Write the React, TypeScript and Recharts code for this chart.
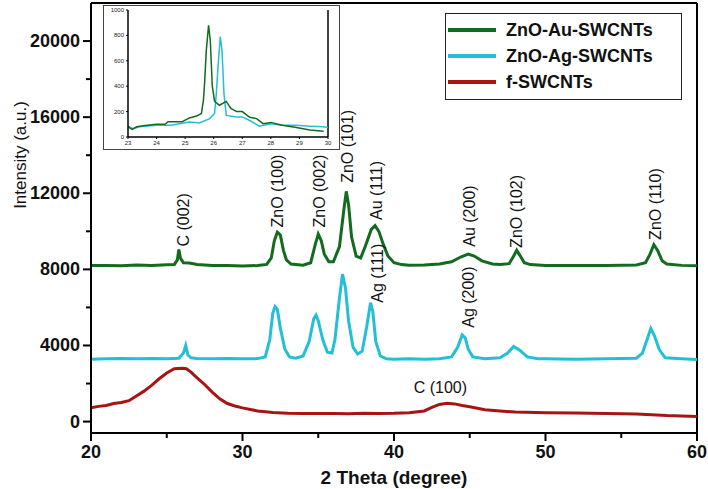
import React from 'react';
import { LineChart, Line, XAxis, YAxis, ReferenceLine, ReferenceDot, Legend, Label } from 'recharts';

// [2θ, intensity]
const auPoints: [number, number][] = [
  [20, 8200], [21, 8210], [22, 8190], [23, 8230], [24, 8200], [25, 8240], [25.5, 8260],
  [25.7, 8500], [25.8, 9050], [25.9, 8600], [26.1, 8350], [26.5, 8330], [27, 8260], [28, 8210],
  [29, 8200], [30, 8180], [31, 8200], [31.6, 8260], [31.9, 8600], [32.1, 9500], [32.3, 9950],
  [32.5, 9800], [32.7, 9000], [32.9, 8500], [33.2, 8280], [34, 8220], [34.5, 8350], [34.8, 9300],
  [35, 9850], [35.2, 9500], [35.4, 8800], [35.7, 8400], [36, 8400], [36.4, 9200], [36.7, 11200],
  [36.85, 12100], [37, 11400], [37.2, 9700], [37.5, 8700], [37.8, 8600], [38.1, 9200], [38.5, 10100],
  [38.75, 10300], [39, 10000], [39.3, 9300], [39.6, 8700], [40, 8350], [40.5, 8250], [41, 8220],
  [42, 8230], [43, 8280], [43.8, 8400], [44.4, 8650], [44.9, 8800], [45.3, 8700], [45.8, 8450],
  [46.5, 8280], [47, 8250], [47.6, 8300], [47.9, 8700], [48.1, 9000], [48.3, 8750], [48.6, 8350],
  [49, 8250], [50, 8210], [52, 8200], [54, 8210], [55, 8220], [56, 8230], [56.6, 8350],
  [56.9, 8800], [57.15, 9300], [57.4, 9000], [57.7, 8450], [58, 8280], [59, 8210], [60, 8190],
];

const agPoints: [number, number][] = [
  [20, 3280], [21, 3300], [22, 3320], [23, 3300], [24, 3320], [25, 3300], [25.8, 3330],
  [26.1, 3600], [26.25, 4000], [26.4, 3500], [26.6, 3350], [27, 3320], [28, 3300], [29, 3310],
  [30, 3300], [31, 3310], [31.5, 3400], [31.8, 4300], [32, 5700], [32.15, 6050], [32.3, 5900],
  [32.5, 4900], [32.8, 3800], [33.1, 3400], [33.5, 3330], [34, 3450], [34.4, 4200], [34.7, 5400],
  [34.85, 5600], [35, 5300], [35.3, 4300], [35.6, 3650], [35.9, 3600], [36.1, 4300], [36.4, 6500],
  [36.6, 7750], [36.8, 7000], [37, 5300], [37.3, 3900], [37.6, 3550], [37.9, 3700], [38.2, 5000],
  [38.45, 6250], [38.6, 5800], [38.8, 4200], [39.1, 3450], [39.5, 3300], [40, 3280], [41, 3300],
  [42, 3280], [43, 3300], [43.8, 3400], [44.2, 3900], [44.5, 4550], [44.7, 4400], [44.9, 3800],
  [45.2, 3400], [46, 3300], [47, 3350], [47.5, 3600], [47.9, 3950], [48.3, 3750], [48.8, 3400],
  [49.5, 3300], [50, 3300], [52, 3280], [54, 3300], [55, 3310], [56, 3330], [56.4, 3600],
  [56.7, 4300], [56.95, 4900], [57.2, 4500], [57.5, 3800], [57.9, 3350], [59, 3300], [60, 3260],
];

const fPoints: [number, number][] = [
  [20, 730], [20.5, 800], [21, 850], [21.5, 950], [22, 1000], [22.5, 1100], [23, 1350],
  [23.5, 1600], [24, 1900], [24.5, 2250], [25, 2550], [25.5, 2780], [26, 2800], [26.3, 2780],
  [26.6, 2600], [27, 2300], [27.5, 1950], [28, 1550], [28.5, 1200], [29, 950], [29.5, 820],
  [30, 720], [31, 560], [32, 480], [33, 440], [34, 420], [35, 430], [36, 420], [37, 410],
  [38, 440], [39, 430], [40, 440], [41, 470], [42, 560], [42.5, 750], [43, 900], [43.5, 960],
  [44, 930], [44.5, 850], [45, 780], [46, 620], [47, 560], [48, 500], [50, 470], [52, 450],
  [54, 430], [56, 400], [58, 320], [59, 300], [60, 270],
];

// inset: zoom on the C (002) region
const insetAu: [number, number][] = [
  [23, 80], [23.15, 60], [23.3, 80], [23.6, 90], [24, 100], [24.3, 100], [24.4, 120], [24.9, 120],
  [25.15, 150], [25.4, 165], [25.57, 185], [25.64, 290], [25.68, 420], [25.74, 680], [25.82, 880],
  [25.88, 760], [25.95, 400], [26.03, 280], [26.2, 250], [26.44, 280], [26.6, 225], [26.8, 200],
  [27, 200], [27.26, 155], [27.5, 145], [27.73, 105], [28, 115], [28.4, 92], [28.9, 75],
  [29.36, 55], [29.85, 45],
];

const insetAg: [number, number][] = [
  [23, 85], [23.17, 65], [23.4, 80], [24, 92], [24.5, 92], [24.7, 100], [25.16, 118], [25.5, 110],
  [25.86, 145], [26.03, 185], [26.09, 340], [26.15, 550], [26.23, 790], [26.29, 680], [26.36, 340],
  [26.44, 170], [26.8, 158], [27, 158], [27.26, 130], [27.6, 85], [28, 105], [28.4, 92], [28.9, 92],
  [29.36, 85], [29.83, 80], [30, 75],
];

const xTicks = [20, 25, 30, 35, 40, 45, 50, 55, 60];
const yTicks = [0, 2000, 4000, 6000, 8000, 10000, 12000, 14000, 16000, 18000, 20000];
const insetXTicks = [23, 24, 25, 26, 27, 28, 29, 30];
const insetYTicks = [0, 200, 400, 600, 800, 1000];

const peakLabels = [
  { text: 'C (002)', theta: 26.1, intensity: 9200 },
  { text: 'ZnO (100)', theta: 32.3, intensity: 10200 },
  { text: 'ZnO (002)', theta: 35.05, intensity: 10200 },
  { text: 'ZnO (101)', theta: 36.9, intensity: 12550 },
  { text: 'Au (111)', theta: 38.8, intensity: 10600 },
  { text: 'Ag (111)', theta: 38.88, intensity: 6250 },
  { text: 'Au (200)', theta: 44.95, intensity: 9190 },
  { text: 'ZnO (102)', theta: 48.05, intensity: 9130 },
  { text: 'ZnO (110)', theta: 57.2, intensity: 9550 },
  { text: 'Ag (200)', theta: 44.9, intensity: 4930 },
];
const flatLabel = { text: 'C (100)', theta: 41.3, intensity: 1520 };

const GREEN = '#126b1e';
const CYAN = '#22bfd6';
const RED = '#a81414';
const FONT = "Arial, 'Liberation Sans', sans-serif";

const series = [
  { name: 'ZnO-Au-SWCNTs', color: GREEN, points: auPoints },
  { name: 'ZnO-Ag-SWCNTs', color: CYAN, points: agPoints },
  { name: 'f-SWCNTs', color: RED, points: fPoints },
];
const seriesOrder = series.map((s) => s.name);

const toRows = (pts: [number, number][]) => pts.map(([theta, value]) => ({ theta, value }));

const MainXTick = ({ x, y, payload }: any) => {
  const major = payload.value % 10 === 0;
  return (
    <g>
      <line x1={x} x2={x} y1={y} y2={y + (major ? 8 : 5)} stroke="#000" strokeWidth={2} />
      {major && (
        <text x={x} y={y + 25} textAnchor="middle" fontSize={18} fontWeight="bold" fontFamily={FONT} fill="#111">
          {payload.value}
        </text>
      )}
    </g>
  );
};

const MainYTick = ({ x, y, payload }: any) => {
  const major = payload.value % 4000 === 0;
  return (
    <g>
      <line x1={x} x2={x - (major ? 8 : 5)} y1={y} y2={y} stroke="#000" strokeWidth={2} />
      {major && (
        <text x={x - 11} y={y + 6} textAnchor="end" fontSize={18} fontWeight="bold" fontFamily={FONT} fill="#111">
          {payload.value}
        </text>
      )}
    </g>
  );
};

const InsetXTick = ({ x, y, payload }: any) => (
  <g>
    <line x1={x} x2={x} y1={y} y2={y + 2} stroke="#000" strokeWidth={1} />
    <text x={x} y={y + 8} textAnchor="middle" fontSize={6} fontFamily={FONT} fill="#222">{payload.value}</text>
  </g>
);

const InsetYTick = ({ x, y, payload }: any) => (
  <g>
    <line x1={x} x2={x - 2} y1={y} y2={y} stroke="#000" strokeWidth={1} />
    <text x={x - 4} y={y + 2} textAnchor="end" fontSize={6} fontFamily={FONT} fill="#222">{payload.value}</text>
  </g>
);

const RotatedLabel = ({ viewBox, text }: any) => {
  const x = viewBox?.x ?? 0;
  const y = viewBox?.y ?? 0;
  return (
    <text x={x} y={y} dy={6} transform={`rotate(-90 ${x} ${y})`} fontSize={16} fontFamily={FONT} fill="#111">
      {text}
    </text>
  );
};

const LegendBox = ({ payload }: any) => {
  const items = [...(payload || [])].sort(
    (a: any, b: any) => seriesOrder.indexOf(a.value) - seriesOrder.indexOf(b.value)
  );
  return (
    <div style={{ border: '1.5px solid #222', background: '#fff', padding: '3px 0 4px 2px', boxSizing: 'border-box', width: 237 }}>
      {items.map((entry: any) => (
        <div key={entry.value} style={{ display: 'flex', alignItems: 'center', height: 26 }}>
          <div style={{ width: 48, height: 4, background: entry.color, marginRight: 10 }} />
          <span style={{ fontFamily: FONT, fontWeight: 'bold', fontSize: 18, color: '#111' }}>{entry.value}</span>
        </div>
      ))}
    </div>
  );
};

export default function App() {
  return (
    <div style={{ position: 'relative', width: 708, height: 489, background: '#fff' }}>
      <style>{'body{margin:0}'}</style>
      <LineChart width={708} height={489} margin={{ top: 3, right: 11, bottom: 0, left: 0 }}>
        <XAxis
          type="number"
          dataKey="theta"
          domain={[20, 60]}
          ticks={xTicks}
          interval={0}
          height={56}
          stroke="#000"
          strokeWidth={2}
          tickLine={false}
          tickSize={0}
          tickMargin={0}
          tick={<MainXTick />}
          allowDuplicatedCategory={false}
        >
          <Label
            content={({ viewBox }: any) => (
              <text x={(viewBox?.x ?? 0) + (viewBox?.width ?? 0) / 2} y={484} textAnchor="middle" fontSize={19} fontWeight="bold" fontFamily={FONT} fill="#111">
                2 Theta (degree)
              </text>
            )}
          />
        </XAxis>
        <YAxis
          type="number"
          domain={[-600, 22000]}
          ticks={yTicks}
          interval={0}
          width={91}
          stroke="#000"
          strokeWidth={2}
          tickLine={false}
          tickSize={0}
          tickMargin={0}
          tick={<MainYTick />}
        >
          <Label
            content={() => (
              <text x={26} y={155} transform="rotate(-90 26 155)" textAnchor="middle" fontSize={17} fontFamily={FONT} fill="#111">
                Intensity (a.u.)
              </text>
            )}
          />
        </YAxis>
        <ReferenceLine y={22000} stroke="#000" strokeWidth={2} />
        <ReferenceLine x={60} stroke="#000" strokeWidth={2} />
        <Legend
          layout="vertical"
          align="center"
          verticalAlign="middle"
          content={<LegendBox />}
          wrapperStyle={{ position: 'absolute', left: 445, top: 13, width: 237 }}
        />
        {series.map((s) => (
          <Line
            key={s.name}
            data={toRows(s.points)}
            dataKey="value"
            name={s.name}
            stroke={s.color}
            strokeWidth={3}
            dot={false}
            activeDot={false}
            type="linear"
            isAnimationActive={false}
          />
        ))}
        {peakLabels.map((p) => (
          <ReferenceDot
            key={p.text}
            x={p.theta}
            y={p.intensity}
            r={0}
            fill="none"
            stroke="none"
            label={(props: any) => <RotatedLabel {...props} text={p.text} />}
          />
        ))}
        <ReferenceDot
          x={flatLabel.theta}
          y={flatLabel.intensity}
          r={0}
          fill="none"
          stroke="none"
          label={({ viewBox }: any) => (
            <text x={viewBox?.x ?? 0} y={viewBox?.y ?? 0} fontSize={16} fontFamily={FONT} fill="#111">
              {flatLabel.text}
            </text>
          )}
        />
      </LineChart>

      <div style={{ position: 'absolute', left: 103, top: 5, width: 237, height: 145, border: '1px solid #444', boxSizing: 'border-box', background: '#fff' }}>
        <LineChart width={235} height={143} margin={{ top: 4, right: 11, bottom: 0, left: 0 }}>
          <XAxis
            type="number"
            dataKey="theta"
            domain={[23, 30]}
            ticks={insetXTicks}
            interval={0}
            height={12}
            stroke="#000"
            strokeWidth={1.5}
            tickLine={false}
            tickSize={0}
            tickMargin={0}
            tick={<InsetXTick />}
          />
          <YAxis
            type="number"
            domain={[0, 1000]}
            ticks={insetYTicks}
            interval={0}
            width={24}
            stroke="#000"
            strokeWidth={1.5}
            tickLine={false}
            tickSize={0}
            tickMargin={0}
            tick={<InsetYTick />}
          />
          <ReferenceLine x={30} stroke="#000" strokeWidth={1.5} />
          <Line data={toRows(insetAg)} dataKey="value" stroke={CYAN} strokeWidth={1.5} dot={false} activeDot={false} isAnimationActive={false} />
          <Line data={toRows(insetAu)} dataKey="value" stroke={GREEN} strokeWidth={1.5} dot={false} activeDot={false} isAnimationActive={false} />
        </LineChart>
      </div>
    </div>
  );
}
